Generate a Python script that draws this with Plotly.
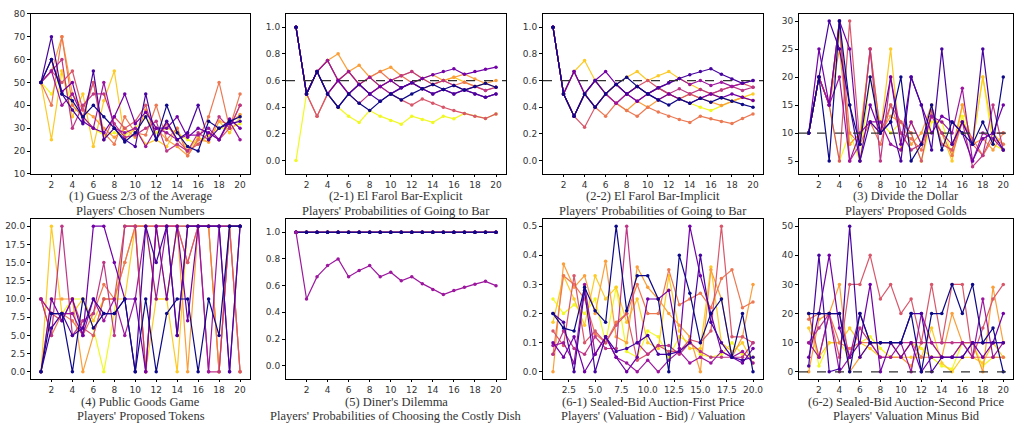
import plotly.graph_objects as go

W, H = 1015, 429
rounds = list(range(1, 21))
colors = ["#0d0887", "#46039f", "#7201a8", "#9c179e", "#bd3786",
          "#d8576b", "#ed7953", "#fb9f3a", "#fdca26", "#f0f921"]

guess = [
    [50,60,45,42,35,40,35,30,24,28,35,25,40,28,22,20,33,30,33,35],
    [50,70,45,38,32,55,25,30,25,22,45,25,33,25,28,40,25,30,32,33],
    [50,60,46,50,33,30,28,35,45,32,37,30,30,35,26,30,28,25,34,30],
    [50,55,40,45,35,30,50,30,28,30,22,30,28,25,27,27,30,25,33,25],
    [50,55,60,30,40,45,45,32,26,27,30,33,20,23,20,28,25,35,30,40],
    [50,55,50,55,38,50,25,35,30,33,40,25,32,25,20,23,28,25,30,40],
    [50,40,70,40,35,50,28,23,35,28,27,40,25,30,18,25,35,50,30,45],
    [50,55,70,45,38,35,30,26,30,26,38,30,25,22,18,25,24,33,32,36],
    [50,25,55,35,45,22,42,55,25,30,23,25,22,30,20,26,24,33,28,35],
    [50,45,55,40,35,30,27,28,27,30,35,28,30,28,25,23,27,30,30,32],
]
farol_explicit = [
    [1,0.5,0.667,0.5,0.4,0.5,0.429,0.375,0.444,0.5,0.455,0.5,0.538,0.571,0.533,0.563,0.529,0.556,0.579,0.55],
    [1,0.5,0.667,0.5,0.4,0.5,0.571,0.5,0.444,0.5,0.545,0.583,0.538,0.5,0.533,0.5,0.529,0.5,0.474,0.5],
    [1,0.5,0.667,0.5,0.6,0.5,0.571,0.5,0.556,0.6,0.545,0.583,0.615,0.643,0.667,0.688,0.647,0.667,0.684,0.7],
    [1,0.5,0.667,0.75,0.6,0.667,0.571,0.625,0.556,0.5,0.545,0.583,0.538,0.5,0.533,0.5,0.529,0.5,0.474,0.5],
    [1,0.5,0.667,0.75,0.6,0.5,0.429,0.5,0.556,0.6,0.636,0.667,0.615,0.571,0.6,0.563,0.529,0.556,0.526,0.55],
    [1,0.5,0.333,0.5,0.6,0.5,0.571,0.5,0.556,0.5,0.455,0.417,0.462,0.429,0.4,0.375,0.353,0.333,0.316,0.35],
    [1,0.5,0.333,0.5,0.6,0.667,0.571,0.625,0.667,0.6,0.636,0.583,0.538,0.571,0.6,0.563,0.588,0.556,0.526,0.55],
    [1,0.5,0.667,0.75,0.8,0.667,0.714,0.625,0.667,0.7,0.636,0.667,0.615,0.643,0.6,0.625,0.647,0.611,0.579,0.6],
    [1,0.5,0.667,0.75,0.6,0.667,0.571,0.625,0.556,0.6,0.545,0.583,0.615,0.571,0.6,0.625,0.588,0.556,0.579,0.55],
    [0,0.5,0.667,0.5,0.4,0.333,0.286,0.375,0.333,0.3,0.273,0.333,0.308,0.286,0.333,0.313,0.353,0.333,0.316,0.35],
]
farol_implicit = [
    [1,0.5,0.333,0.5,0.4,0.5,0.571,0.625,0.556,0.5,0.455,0.417,0.462,0.429,0.467,0.438,0.471,0.444,0.421,0.4],
    [1,0.5,0.333,0.5,0.6,0.5,0.571,0.5,0.556,0.5,0.545,0.583,0.615,0.643,0.667,0.688,0.647,0.611,0.579,0.6],
    [1,0.5,0.667,0.5,0.6,0.667,0.571,0.5,0.444,0.5,0.455,0.5,0.462,0.429,0.467,0.5,0.471,0.5,0.474,0.45],
    [1,0.5,0.667,0.5,0.4,0.5,0.429,0.5,0.556,0.5,0.545,0.583,0.615,0.571,0.6,0.563,0.588,0.556,0.579,0.6],
    [1,0.5,0.333,0.5,0.6,0.5,0.429,0.5,0.444,0.5,0.545,0.5,0.538,0.5,0.533,0.5,0.529,0.556,0.526,0.55],
    [1,0.5,0.333,0.25,0.4,0.5,0.571,0.5,0.556,0.6,0.545,0.5,0.462,0.5,0.467,0.5,0.529,0.556,0.579,0.55],
    [1,0.5,0.333,0.5,0.4,0.333,0.429,0.375,0.333,0.4,0.364,0.333,0.308,0.286,0.333,0.313,0.294,0.278,0.316,0.35],
    [1,0.5,0.333,0.5,0.4,0.5,0.429,0.375,0.444,0.4,0.455,0.5,0.462,0.5,0.467,0.438,0.412,0.444,0.474,0.45],
    [1,0.5,0.667,0.75,0.6,0.5,0.571,0.625,0.667,0.6,0.636,0.667,0.615,0.571,0.533,0.5,0.471,0.444,0.474,0.5],
    [1,0.5,0.667,0.5,0.6,0.5,0.571,0.5,0.556,0.5,0.545,0.5,0.462,0.429,0.4,0.375,0.412,0.444,0.474,0.45],
]
divide_dollar = [
    [10,20,5,30,15,8,20,10,12,20,5,8,15,7,12,10,8,12,8,20],
    [10,20,30,25,15,5,12,10,12,5,20,15,7,25,8,12,8,25,10,7],
    [10,25,15,30,25,5,15,10,20,8,20,15,10,13,12,10,5,9,10,15],
    [10,20,15,20,5,10,12,12,8,7,12,8,13,12,10,18,5,10,9,7],
    [10,20,15,30,5,8,25,5,20,10,7,8,13,10,8,12,4,6,15,7],
    [10,20,15,5,30,8,25,10,15,12,10,5,14,8,7,12,8,6,10,10],
    [10,20,15,30,10,8,12,8,15,10,9,7,13,10,6,12,9,6,9,8],
    [10,20,15,25,8,10,12,10,13,12,8,10,15,8,7,15,8,9,7,10],
    [10,20,15,28,8,10,25,10,25,7,12,8,14,10,5,15,8,20,10,8],
    [10,20,15,5,10,5,20,12,10,12,10,5,12,12,6,13,8,20,8,7],
]
public_goods = [
    [0,8,8,0,10,6,8,8,10,0,10,0,8,10,10,0,10,5,20,20],
    [0,6,8,5,6,10,8,8,10,0,20,15,20,5,20,20,20,20,0,20],
    [0,10,7,10,5,20,20,15,10,10,0,20,10,20,7,20,20,20,20,20],
    [10,8,8,8,5,10,7,10,5,10,20,10,20,5,20,20,0,20,0,20],
    [10,5,20,5,7,8,15,5,20,20,0,20,20,20,20,20,0,0,20,20],
    [10,8,7,10,6,5,10,10,20,20,20,20,20,20,15,20,20,20,20,0],
    [10,5,8,7,5,8,12,10,15,20,0,20,20,20,15,20,20,0,20,0],
    [0,10,10,10,0,5,10,10,15,20,20,20,10,20,0,20,20,0,20,0],
    [0,20,8,8,10,7,10,10,10,20,0,10,10,0,20,20,20,0,20,20],
    [10,8,8,10,10,6,0,8,20,20,20,10,10,20,20,20,20,20,20,20],
]
diner_one = [1]*20
diner_player = [1,0.5,0.667,0.75,0.8,0.667,0.714,0.75,0.667,0.7,0.636,0.667,0.615,0.571,0.533,0.563,0.588,0.611,0.632,0.6]
first_price = [
    [0.2,0.15,0.14,0.29,0.21,0.17,0.5,0.21,0.33,0.33,0.25,0,0.4,0.27,0.1,0.2,0.25,0.05,0.2,0],
    [0.2,0.17,0,0.28,0,0.12,0.07,0.08,0.1,0.125,0.06,0.06,0.07,0.1,0.4,0.17,0.1,0.05,0.04,0.05],
    [0.1,0.05,0.12,0,0.06,0.12,0.05,0,0.05,0.25,0.25,0.28,0.08,0.5,0.33,0.2,0.07,0.05,0.03,0.08],
    [0.09,0.1,0.03,0.3,0.06,0.12,0.05,0.03,0,0.04,0,0.04,0.07,0.03,0.05,0.03,0.07,0.05,0.07,0.03],
    [0.06,0.14,0.08,0.06,0.12,0.08,0.08,0.5,0.1,0.06,0.09,0.09,0.06,0.1,0.07,0.05,0.05,0.05,0.05,0.1],
    [0.14,0.09,0.33,0.1,0.14,0.1,0.16,0.2,0.04,0.06,0.09,0.07,0.07,0.11,0.1,0.14,0.5,0.12,0.12,0.1],
    [0.06,0.33,0.3,0.25,0.13,0.1,0.17,0.2,0.3,0.2,0.2,0.35,0.23,0.25,0.27,0.22,0.32,0.35,0.22,0.24],
    [0,0.37,0.29,0.33,0.2,0.38,0.12,0.1,0.36,0.29,0.25,0.2,0.16,0.12,0,0.35,0.25,0.05,0.12,0.3],
    [0.17,0.33,0.25,0.16,0.33,0.25,0.29,0.17,0.25,0.1,0.08,0.33,0.14,0.08,0.08,0.36,0.1,0.07,0.1,0.03],
    [0.25,0.2,0.23,0.2,0.25,0.1,0.29,0.07,0.05,0.14,0.12,0.05,0.12,0.1,0.06,0.05,0.06,0.1,0.06,0.05],
]
second_price = [
    [20,20,20,20,0,20,10,10,10,10,20,0,20,20,30,20,30,10,15,0],
    [2,40,0,1,50,5,10,10,10,10,20,20,0,5,5,5,10,10,10,10],
    [5,20,40,15,5,10,30,0,10,5,10,0,5,5,5,5,10,5,10,20],
    [10,5,20,0,5,20,10,5,5,10,0,20,10,5,5,10,5,25,5,10],
    [10,15,20,20,5,15,10,10,10,10,10,10,10,10,10,10,10,10,10,10],
    [20,5,20,5,30,30,40,25,30,20,25,10,30,10,30,30,5,15,25,30],
    [18,20,20,10,8,10,10,5,5,5,10,5,5,5,5,10,5,5,5,5],
    [0,18,20,30,0,5,10,10,10,5,2,10,10,5,20,10,10,0,29,10],
    [15,5,10,10,15,10,8,5,5,5,5,5,15,3,0,5,5,3,10,5],
    [20,2,10,10,5,10,12,8,5,5,10,8,5,2,1,10,10,2,5,5],
]

titles = [
    ("(1) Guess 2/3 of the Average", "Players' Chosen Numbers"),
    ("(2-1) El Farol Bar-Explicit", "Players' Probabilities of Going to Bar"),
    ("(2-2) El Farol Bar-Implicit", "Players' Probabilities of Going to Bar"),
    ("(3) Divide the Dollar", "Players' Proposed Golds"),
    ("(4) Public Goods Game", "Players' Proposed Tokens"),
    ("(5) Diner's Dilemma", "Players' Probabilities of Choosing the Costly Dish"),
    ("(6-1) Sealed-Bid Auction-First Price", "Players' (Valuation - Bid) / Valuation"),
    ("(6-2) Sealed-Bid Auction-Second Price", "Players' Valuation Minus Bid"),
]
ref_lines = [None, 0.6, 0.6, 10, None, None, None, 0]

panels = [
    (guess, list(range(10))),
    (farol_explicit, list(range(10))),
    (farol_implicit, list(range(10))),
    (divide_dollar, list(range(10))),
    (public_goods, list(range(10))),
    ([diner_player] + [diner_one] * 9, [3, 9, 8, 7, 6, 5, 4, 2, 1, 0]),
    (first_price, list(range(10))),
    (second_price, list(range(10))),
]

# pixel layout
xdom_px = [(31, 250), (286, 506), (543, 763), (799, 1013)]
ydom_px = [(9, 173), (219, 383)]
yranges = [[10, 80], [-0.1, 1.1], [-0.1, 1.1], [2.7, 31.3],
           [-1, 21], [-0.1, 1.1], [-0.025, 0.525], [-2.5, 52.5]]
ytickvals = [[10, 20, 30, 40, 50, 60, 70, 80],
             [0, 0.2, 0.4, 0.6, 0.8, 1.0],
             [0, 0.2, 0.4, 0.6, 0.8, 1.0],
             [5, 10, 15, 20, 25, 30],
             [0, 2.5, 5, 7.5, 10, 12.5, 15, 17.5, 20],
             [0, 0.2, 0.4, 0.6, 0.8, 1.0],
             [0, 0.1, 0.2, 0.3, 0.4, 0.5],
             [0, 10, 20, 30, 40, 50]]
ytickfmt = ["d", ".1f", ".1f", "d", ".1f", ".1f", ".1f", "d"]

fig = go.Figure()
layout = dict(width=W, height=H, margin=dict(l=0, r=0, t=0, b=0),
              paper_bgcolor="white", plot_bgcolor="white", showlegend=False)
annotations = []
shapes = []
tickfont = dict(family="DejaVu Sans", size=9, color="#333")
titlefont = dict(family="Liberation Serif", size=12.5, color="#333")

for i, (series, order) in enumerate(panels):
    r, c = divmod(i, 4)
    x0, x1 = xdom_px[c]
    y0, y1 = ydom_px[r]
    xd = [x0 / W, x1 / W]
    yd = [1 - y1 / H, 1 - y0 / H]
    n = i + 1
    xa = "xaxis" if n == 1 else f"xaxis{n}"
    ya = "yaxis" if n == 1 else f"yaxis{n}"
    xr = "x" if n == 1 else f"x{n}"
    yr = "y" if n == 1 else f"y{n}"
    if i == 6:
        xt = dict(tickvals=[2.5, 5, 7.5, 10, 12.5, 15, 17.5, 20], tickformat=".1f")
    else:
        xt = dict(tickvals=list(range(2, 21, 2)))
    layout[xa] = dict(domain=xd, anchor=yr, range=[0.05, 20.95], showgrid=False,
                      zeroline=False, showline=True, mirror=True, linecolor="black",
                      linewidth=1, ticks="outside", ticklen=2, tickcolor="black",
                      tickfont=tickfont, **xt)
    layout[ya] = dict(domain=yd, anchor=xr, range=yranges[i], showgrid=False,
                      zeroline=False, showline=True, mirror=True, linecolor="black",
                      linewidth=1, ticks="outside", ticklen=3, tickcolor="black",
                      tickfont=tickfont, tickvals=ytickvals[i], tickformat=ytickfmt[i])
    # draw yellow first, navy last
    idx = sorted(range(len(series)), key=lambda k: -order[k])
    if i == 5:
        idx = sorted(range(1, 10), key=lambda k: -order[k]) + [0]
    for k in idx:
        col = colors[order[k]]
        fig.add_trace(go.Scatter(x=rounds, y=series[k], mode="lines+markers",
                                 line=dict(color=col, width=1.2),
                                 marker=dict(color=col, size=3.5),
                                 xaxis=xr, yaxis=yr, hoverinfo="skip"))
    if ref_lines[i] is not None:
        shapes.append(dict(type="line", xref=f"{xr} domain", yref=yr,
                           x0=0, x1=1, y0=ref_lines[i], y1=ref_lines[i],
                           line=dict(color="#333", width=1.2, dash="dash")))
    cx = (x0 + x1) / 2 / W
    ty1 = y1 + 23
    ty2 = ty1 + 15
    t1, t2 = titles[i]
    annotations.append(dict(text=t1, x=cx, y=1 - ty1 / H, xref="paper", yref="paper",
                            showarrow=False, font=titlefont, xanchor="center", yanchor="middle"))
    annotations.append(dict(text=t2, x=cx, y=1 - ty2 / H, xref="paper", yref="paper",
                            showarrow=False, font=titlefont, xanchor="center", yanchor="middle"))

layout["annotations"] = annotations
layout["shapes"] = shapes
fig.update_layout(**layout)
fig.write_html("out.html", config={"displayModeBar": False},
               post_script="document.body.style.margin='0';document.body.style.overflow='hidden';")
